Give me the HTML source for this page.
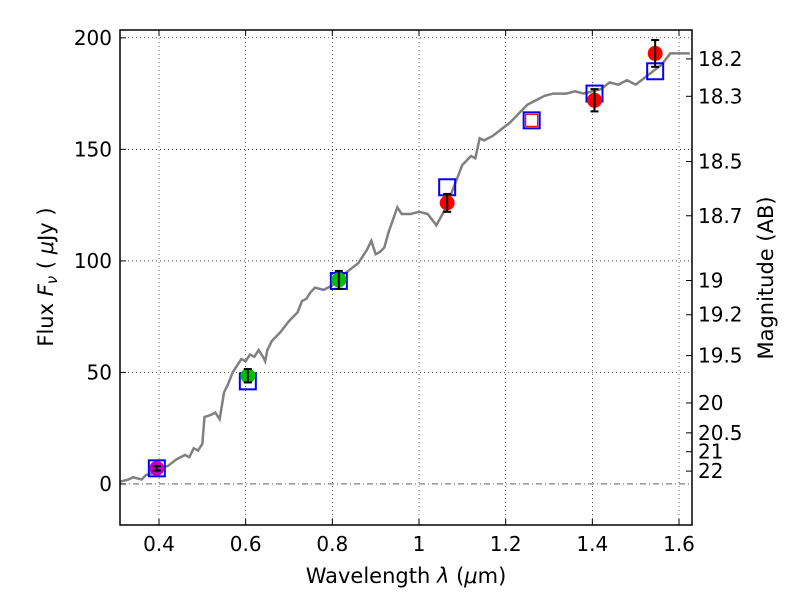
<!DOCTYPE html>
<html><head><meta charset="utf-8">
<style>
body{margin:0;background:#fff;}
svg{display:block;font-family:"DejaVu Sans","Liberation Sans",sans-serif;}
</style></head>
<body>
<svg id="chart" width="800" height="600" viewBox="0 0 800 600">
<rect x="0" y="0" width="800" height="600" fill="#fff"/>
<g id="grid"></g>
<g id="spec"></g>
<g id="marks"></g>
<rect x="120" y="30" width="572" height="495" fill="none" stroke="#000" stroke-width="1.5"/>
<g id="ticks"></g>
<text x="406" y="583" font-size="21" text-anchor="middle">Wavelength  <tspan font-style="italic">λ</tspan> (<tspan font-style="italic">μ</tspan>m)</text>
<text transform="translate(53,277) rotate(-90)" font-size="21" text-anchor="middle">Flux  <tspan font-style="italic">F<tspan font-size="15" dy="4">ν</tspan></tspan><tspan dy="-4">  (  <tspan font-style="italic">μ</tspan>Jy )</tspan></text>
<text transform="translate(773,278) rotate(-90)" font-size="21" text-anchor="middle">Magnitude (AB)</text>
</svg>
<script>
const xTicks=[0.4,0.6,0.8,1.0,1.2,1.4,1.6];
const xTickLabels=["0.4","0.6","0.8","1","1.2","1.4","1.6"];
const yTicks=[0,50,100,150,200];
const magTicks=[18.2,18.3,18.5,18.7,19,19.2,19.5,20,20.5,21,22];
const magLabels=["18.2","18.3","18.5","18.7","19","19.2","19.5","20","20.5","21","22"];
const specWave=[0.31,0.33,0.34,0.36,0.37,0.39,0.40,0.42,0.44,0.46,0.47,0.48,0.49,0.50,0.505,0.52,0.53,0.54,0.55,0.56,0.57,0.58,0.59,0.60,0.61,0.62,0.63,0.64,0.645,0.65,0.66,0.68,0.70,0.72,0.73,0.74,0.75,0.76,0.78,0.80,0.82,0.84,0.86,0.88,0.89,0.90,0.91,0.92,0.93,0.95,0.96,0.98,1.00,1.02,1.04,1.06,1.08,1.10,1.12,1.13,1.14,1.15,1.17,1.19,1.21,1.23,1.25,1.27,1.29,1.31,1.34,1.36,1.38,1.40,1.42,1.44,1.46,1.48,1.50,1.52,1.54,1.56,1.58,1.60,1.625];
const specFlux=[1,2,3,2,4,5,7,8,11,13,12,16,15,18,30,31,32,29,41,45,50,53,56,55,58,57,60,57,55,60,64,68,73,77,82,83,86,88,87,89,93,96,99,105,109,103,104,106,113,124,121,121,122,121,116,123,133,143,147,146,155,154,156,159,162,166,170,172,174,175,175,176,175,176,177,180,179,181,179,182,185,188,193,193,193];
const obsWave=[0.395,0.605,0.815,1.065,1.405,1.545];
const obsFlux=[7,48.5,91.5,126,172,193];
const obsErr=[1,3,4,4,5,6];
const obsColor=["#bf00bf","#00bf00","#00bf00","#ff0000","#ff0000","#ff0000"];
const modelWave=[0.395,0.605,0.815,1.065,1.26,1.405,1.545];
const modelFlux=[7,46,91,133,163,175,185];
const limWave=[1.26];
const limFlux=[163];

const X0=120,X1=692,Y0=30,Y1=525,xmin=0.31,xmax=1.63,ymin=-18.4,ymax=203.5;
const sx=v=>X0+(v-xmin)/(xmax-xmin)*(X1-X0);
const sy=v=>Y1-(v-ymin)/(ymax-ymin)*(Y1-Y0);
const NS="http://www.w3.org/2000/svg";
function mk(tag,attrs,parent){const e=document.createElementNS(NS,tag);for(const k in attrs)e.setAttribute(k,attrs[k]);parent.appendChild(e);return e;}
const grid=document.getElementById('grid'),ticks=document.getElementById('ticks'),spec=document.getElementById('spec'),marks=document.getElementById('marks');
xTicks.forEach((t,i)=>{
 const g=mk('line',{x1:sx(t),x2:sx(t),y1:Y0,y2:Y1,stroke:'#000','stroke-width':0.6,'stroke-dasharray':'1,3'},grid);
 
 
 mk('line',{x1:sx(t),x2:sx(t),y1:Y1,y2:Y1-6,stroke:'#000'},ticks);
 mk('line',{x1:sx(t),x2:sx(t),y1:Y0,y2:Y0+6,stroke:'#000'},ticks);
 const l=mk('text',{x:sx(t),y:Y1+26,'font-size':20,'text-anchor':'middle'},ticks);
 l.textContent=xTickLabels[i];
 
 
});
yTicks.forEach(t=>{
 const g=mk('line',{x1:X0,x2:X1,y1:sy(t),y2:sy(t),stroke:'#000','stroke-width':0.7,'stroke-dasharray':t===0?'6,3,1,3':'1,3'},grid);
 
 
 mk('line',{x1:X0,x2:X0+6,y1:sy(t),y2:sy(t),stroke:'#000'},ticks);
 const l=mk('text',{x:X0-8,y:sy(t)+7,'font-size':20,'text-anchor':'end'},ticks);
 l.textContent=String(t);
 
 
});
magTicks.forEach((m,i)=>{
 const f=Math.pow(10,(23.9-m)/2.5);
 mk('line',{x1:X1,x2:X1-6,y1:sy(f),y2:sy(f),stroke:'#000'},ticks);
 const l=mk('text',{x:X1+6,y:sy(f)+7,'font-size':20},ticks);
 l.textContent=magLabels[i];
 
 
});
const p=mk('polyline',{points:specWave.map((w,i)=>sx(w)+','+sy(specFlux[i])).join(' '),fill:'none',stroke:'#808080','stroke-width':2.5},spec);


modelWave.forEach((w,i)=>{
 const r=mk('rect',{x:sx(w)-8,y:sy(modelFlux[i])-8,width:16,height:16,fill:'none',stroke:'#0000ff','stroke-width':2},marks);
 
 
});
limWave.forEach((w,i)=>{
 const r=mk('rect',{x:sx(w)-6,y:sy(limFlux[i])-6,width:12,height:12,fill:'none',stroke:'#ff0000','stroke-width':1.2},marks);
 
 
});
obsWave.forEach((w,i)=>{
 const c=mk('circle',{cx:sx(w),cy:sy(obsFlux[i]),r:7.5,fill:obsColor[i]},marks);
 
 
 const x=sx(w),a=sy(obsFlux[i]+obsErr[i]),b=sy(obsFlux[i]-obsErr[i]);
 mk('line',{x1:x,x2:x,y1:a,y2:b,stroke:'#000','stroke-width':2},marks);
 mk('line',{x1:x-4,x2:x+4,y1:a,y2:a,stroke:'#000','stroke-width':2},marks);
 mk('line',{x1:x-4,x2:x+4,y1:b,y2:b,stroke:'#000','stroke-width':2},marks);
});
</script>
</body></html>
